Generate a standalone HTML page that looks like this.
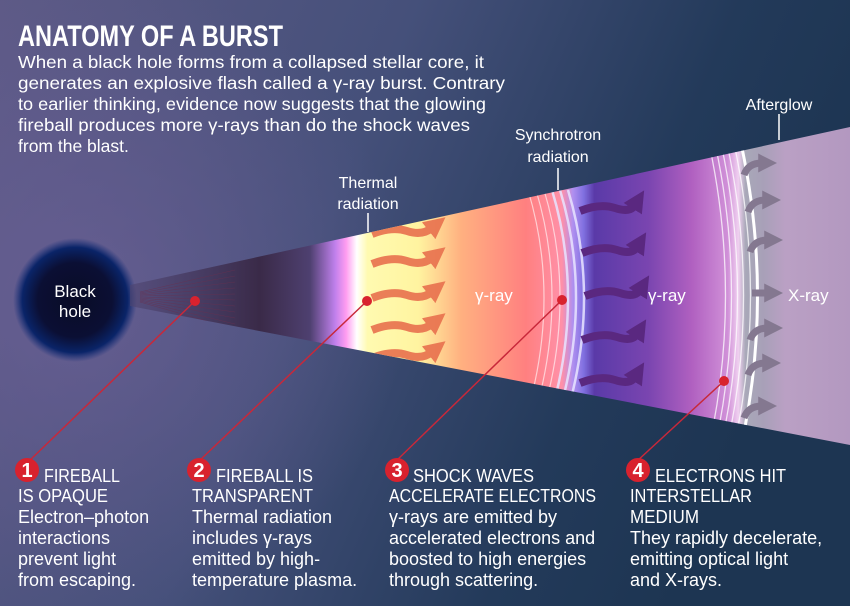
<!DOCTYPE html>
<html><head><meta charset="utf-8"><style>
html,body{margin:0;padding:0;background:#2a3555}
svg{display:block}
text{font-family:"Liberation Sans",sans-serif;fill:#fff}
</style></head><body>
<svg width="850" height="606" viewBox="0 0 850 606" xmlns="http://www.w3.org/2000/svg">
<defs>
<linearGradient id="bg" x1="0" y1="0" x2="1" y2="0.3">
<stop offset="0" stop-color="#5d5a86"/><stop offset="0.45" stop-color="#45507a"/><stop offset="0.8" stop-color="#233a5a"/><stop offset="1" stop-color="#1d3552"/></linearGradient>
<radialGradient id="glow" cx="75" cy="300" r="330" gradientUnits="userSpaceOnUse">
<stop offset="0" stop-color="#6a5f95" stop-opacity="0.8"/><stop offset="1" stop-color="#6a5f95" stop-opacity="0"/></radialGradient>
<radialGradient id="bh" cx="0.5" cy="0.5" r="0.5">
<stop offset="0" stop-color="#0a0c26"/><stop offset="0.6" stop-color="#0b0f34"/><stop offset="0.85" stop-color="#0a2468"/><stop offset="1" stop-color="#16307a" stop-opacity="0"/></radialGradient>
<linearGradient id="cone" x1="130" y1="0" x2="850" y2="0" gradientUnits="userSpaceOnUse">
<stop offset="0" stop-color="#4e4470" stop-opacity="0.6"/>
<stop offset="0.18" stop-color="#3a2a48"/>
<stop offset="0.25" stop-color="#4e4070"/>
<stop offset="0.285" stop-color="#c080ec"/>
<stop offset="0.3" stop-color="#ff9cf0"/>
<stop offset="0.315" stop-color="#ffffff"/>
<stop offset="0.33" stop-color="#fffab0"/>
<stop offset="0.4" stop-color="#fff4a0"/>
<stop offset="0.46" stop-color="#ffb080"/>
<stop offset="0.55" stop-color="#ff8080"/>
<stop offset="0.6" stop-color="#ff90a8"/>
<stop offset="0.615" stop-color="#b090f0"/>
<stop offset="0.63" stop-color="#8070e0"/>
<stop offset="0.645" stop-color="#5a3aa8"/>
<stop offset="0.72" stop-color="#7a45b0"/>
<stop offset="0.78" stop-color="#b060c0"/>
<stop offset="0.83" stop-color="#d090d8"/>
<stop offset="0.845" stop-color="#f0d0f0"/>
<stop offset="0.855" stop-color="#a8a8b8"/>
<stop offset="0.88" stop-color="#a8a0b8"/>
<stop offset="0.91" stop-color="#baa0c4"/>
<stop offset="1" stop-color="#b398c0"/>
</linearGradient>
<clipPath id="cc"><polygon points="130,285 850,127 850,445 130,306"/></clipPath>
<marker id="ah" viewBox="0 0 10 10" refX="2" refY="5" markerWidth="2.7" markerHeight="2.7" orient="auto"><path d="M0,0L10,5L0,10z" fill="context-stroke"/></marker>
</defs>
<rect width="850" height="606" fill="url(#bg)"/>
<rect width="850" height="606" fill="url(#glow)"/>
<circle cx="75" cy="300" r="62" fill="url(#bh)"/>
<text x="75" y="297" style="font-size:17px" text-anchor="middle">Black</text>
<text x="75" y="317" style="font-size:17px" text-anchor="middle">hole</text>
<polygon points="130,285 850,127 850,445 130,306" fill="url(#cone)"/>
<g clip-path="url(#cc)" fill="none">
<g stroke="#6a3050" stroke-width="0.6" opacity="0.7">
<path d="M140,292L235,270M140,293L235,276M140,294L235,282M140,295L235,288M140,296L235,294M140,297L235,300M140,298L235,306M140,299L235,312M140,300L235,318M140,301L235,324M140,302L235,329"/></g>
<g stroke="#fff" stroke-width="1.2" opacity="0.6">
<path d="M528,190Q560,296 528,410M536,190Q568,296 536,410M544,190Q576,296 544,410"/></g>
<g stroke="#e8e4ff" stroke-width="2.5" opacity="0.85">
<path d="M552,190Q584,296 552,410M560,190Q592,296 560,410M568,190Q600,296 568,410"/></g>
<g stroke="#fff" stroke-width="1.3" opacity="0.75">
<path d="M706,130Q745,296 706,460M712,130Q751,296 712,460M718,130Q757,296 718,460M724,130Q763,296 724,460M731,130Q770,296 731,460"/></g>
<path d="M738,130Q777,296 738,460" stroke="#fff" stroke-width="3"/>
<g stroke="#e8704e" stroke-width="8" marker-end="url(#ah)" opacity="0.9">
<path d="M372,234q20,-8 35,-3t25,-3"/>
<path d="M372,264q20,-8 35,-3t25,-3"/>
<path d="M372,298q20,-8 35,-3t25,-3"/>
<path d="M372,330q20,-8 35,-3t25,-3"/>
<path d="M372,358q20,-8 35,-3t25,-3"/>
</g>
<g stroke="#5a2880" stroke-width="8" marker-end="url(#ah)">
<path d="M580,211q20,-8 35,-3t20,-3"/>
<path d="M582,253q20,-8 35,-3t20,-3"/>
<path d="M585,296q20,-8 35,-3t20,-3"/>
<path d="M582,340q20,-8 35,-3t20,-3"/>
<path d="M580,383q20,-8 35,-3t20,-3"/>
</g>
<g stroke="#847890" stroke-width="7" marker-end="url(#ah)">
<path d="M744,175q4,-12 18,-12"/><path d="M748,212q4,-12 18,-12"/><path d="M750,252q4,-12 18,-12"/><path d="M752,293h16"/><path d="M750,340q4,-12 18,-12"/><path d="M748,375q4,-12 18,-12"/><path d="M744,418q4,-12 18,-12"/>
</g>
</g>
<text x="475" y="301" style="font-size:17px">γ-ray</text>
<text x="648" y="301" style="font-size:17px">γ-ray</text>
<text x="788" y="301" style="font-size:17px">X-ray</text>
<g stroke="#fff" stroke-width="1.5"><line x1="368" y1="213" x2="368" y2="232"/><line x1="558" y1="168" x2="558" y2="190"/><line x1="779" y1="114" x2="779" y2="140"/></g>
<text x="368" y="188" style="font-size:16px" text-anchor="middle">Thermal</text>
<text x="368" y="209" style="font-size:16px" text-anchor="middle">radiation</text>
<text x="558" y="140" style="font-size:16px" text-anchor="middle">Synchrotron</text>
<text x="558" y="162" style="font-size:16px" text-anchor="middle">radiation</text>
<text x="779" y="110" style="font-size:16px" text-anchor="middle">Afterglow</text>
<g stroke="#c8283a" stroke-width="1.5"><line x1="195" y1="301" x2="28" y2="462"/><line x1="367" y1="301" x2="198" y2="462"/><line x1="562" y1="300" x2="395" y2="462"/><line x1="724" y1="381" x2="636" y2="462"/></g>
<g fill="#d8222e"><circle cx="195" cy="301" r="5"/><circle cx="367" cy="301" r="5"/><circle cx="562" cy="300" r="5"/><circle cx="724" cy="381" r="5"/>
<circle cx="27" cy="470" r="12"/><circle cx="199" cy="470" r="12"/><circle cx="397" cy="470" r="12"/><circle cx="638" cy="470" r="12"/></g>
<g style="font-size:20px;font-weight:bold" text-anchor="middle"><text x="27" y="477">1</text><text x="199" y="477">2</text><text x="397" y="477">3</text><text x="638" y="477">4</text></g>
<text x="18" y="46" style="font-size:30px;font-weight:bold" textLength="265" lengthAdjust="spacingAndGlyphs">ANATOMY OF A BURST</text>
<g style="font-size:17.5px">
<text x="18" y="68" textLength="466" lengthAdjust="spacingAndGlyphs">When a black hole forms from a collapsed stellar core, it</text>
<text x="18" y="89" textLength="487" lengthAdjust="spacingAndGlyphs">generates an explosive flash called a γ-ray burst. Contrary</text>
<text x="18" y="110" textLength="468" lengthAdjust="spacingAndGlyphs">to earlier thinking, evidence now suggests that the glowing</text>
<text x="18" y="131" textLength="452" lengthAdjust="spacingAndGlyphs">fireball produces more γ-rays than do the shock waves</text>
<text x="18" y="152">from the blast.</text>
</g>
<g style="font-size:18px">
<text x="44" y="482" textLength="76" lengthAdjust="spacingAndGlyphs">FIREBALL</text><text x="18" y="502" textLength="90" lengthAdjust="spacingAndGlyphs">IS OPAQUE</text><text x="18" y="523">Electron–photon</text><text x="18" y="544">interactions</text><text x="18" y="565">prevent light</text><text x="18" y="586">from escaping.</text>
<text x="216" y="482" textLength="97" lengthAdjust="spacingAndGlyphs">FIREBALL IS</text><text x="192" y="502" textLength="121" lengthAdjust="spacingAndGlyphs">TRANSPARENT</text><text x="192" y="523">Thermal radiation</text><text x="192" y="544">includes γ-rays</text><text x="192" y="565">emitted by high-</text><text x="192" y="586">temperature plasma.</text>
<text x="413" y="482" textLength="121" lengthAdjust="spacingAndGlyphs">SHOCK WAVES</text><text x="389" y="502" textLength="207" lengthAdjust="spacingAndGlyphs">ACCELERATE ELECTRONS</text><text x="389" y="523">γ-rays are emitted by</text><text x="389" y="544">accelerated electrons and</text><text x="389" y="565">boosted to high energies</text><text x="389" y="586">through scattering.</text>
<text x="655" y="482" textLength="131" lengthAdjust="spacingAndGlyphs">ELECTRONS HIT</text><text x="630" y="502" textLength="122" lengthAdjust="spacingAndGlyphs">INTERSTELLAR</text><text x="630" y="523" textLength="69" lengthAdjust="spacingAndGlyphs">MEDIUM</text><text x="630" y="544">They rapidly decelerate,</text><text x="630" y="565">emitting optical light</text><text x="630" y="586">and X-rays.</text>
</g>
</svg>
</body></html>
